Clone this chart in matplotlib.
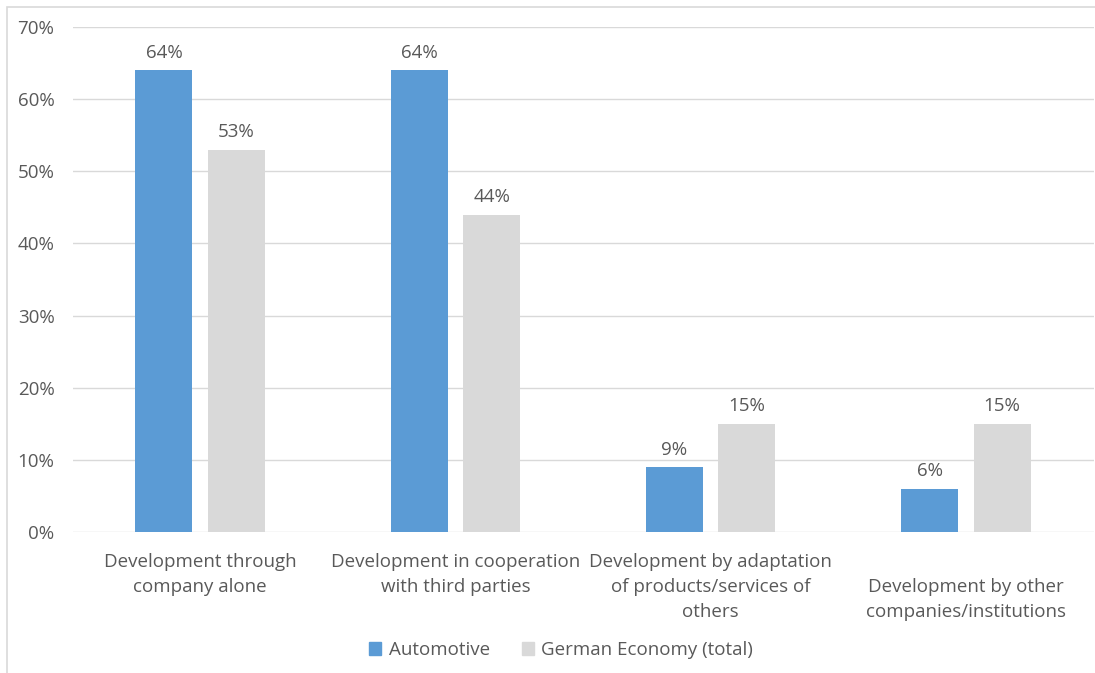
import matplotlib.pyplot as plt
from matplotlib.patches import Rectangle, Patch

categories = ["Development through\ncompany alone",
              "Development in cooperation\nwith third parties",
              "Development by adaptation\nof products/services of\nothers",
              "\nDevelopment by other\ncompanies/institutions"]
automotive = [64, 64, 9, 6]
german_total = [53, 44, 15, 15]
series_names = ["Automotive", "German Economy (total)"]

blue = "#5b9bd5"
grey = "#d9d9d9"
txt = "#595959"

plt.rcParams['font.family'] = ['Open Sans', 'DejaVu Sans']

W, H = 1095, 673
fig = plt.figure(figsize=(W / 100, H / 100), dpi=100)
ax = fig.add_axes([72.5 / W, (H - 532) / H, (1093.5 - 72.5) / W, (532 - 27) / H])

x = list(range(len(categories)))
bw = 0.224
off = 0.142
b1 = ax.bar([i - off for i in x], automotive, bw, color=blue, zorder=3)
b2 = ax.bar([i + off for i in x], german_total, bw, color=grey, zorder=3)

for bars, vals in [(b1, automotive), (b2, german_total)]:
    for b, v in zip(bars, vals):
        ax.annotate(f"{v}%", (b.get_x() + b.get_width() / 2, v),
                    xytext=(0, 6), textcoords="offset points",
                    ha="center", va="bottom", fontsize=13.5, color=txt)

ax.set_xlim(-0.5, len(categories) - 0.5)
ax.set_ylim(0, 70)
ax.set_yticks(range(0, 71, 10))
ax.set_yticklabels([f"{t}%" for t in range(0, 71, 10)])
ax.set_xticks(x)
ax.set_xticklabels(categories, linespacing=1.52)
ax.tick_params(axis="y", length=0, pad=13, labelsize=13.5, labelcolor=txt)
ax.tick_params(axis="x", length=0, pad=15, labelsize=13.5, labelcolor=txt)
ax.grid(axis="y", color=grey, linewidth=1, zorder=0)
for s in ax.spines.values():
    s.set_visible(False)

handles = [Patch(color=blue), Patch(color=grey)]
fig.legend(handles, series_names, loc="center", bbox_to_anchor=(561 / W, 1 - 650 / H),
           ncol=2, frameon=False, fontsize=13.5, labelcolor=txt,
           handlelength=0.65, handleheight=0.65, handletextpad=0.4, columnspacing=1.7)

fig.patches.append(Rectangle((7 / W, -0.1), 1.2, 1 - 7 / H + 0.1, transform=fig.transFigure,
                             fill=False, edgecolor=grey, linewidth=1.2))

fig.savefig("out.png", dpi=100)
